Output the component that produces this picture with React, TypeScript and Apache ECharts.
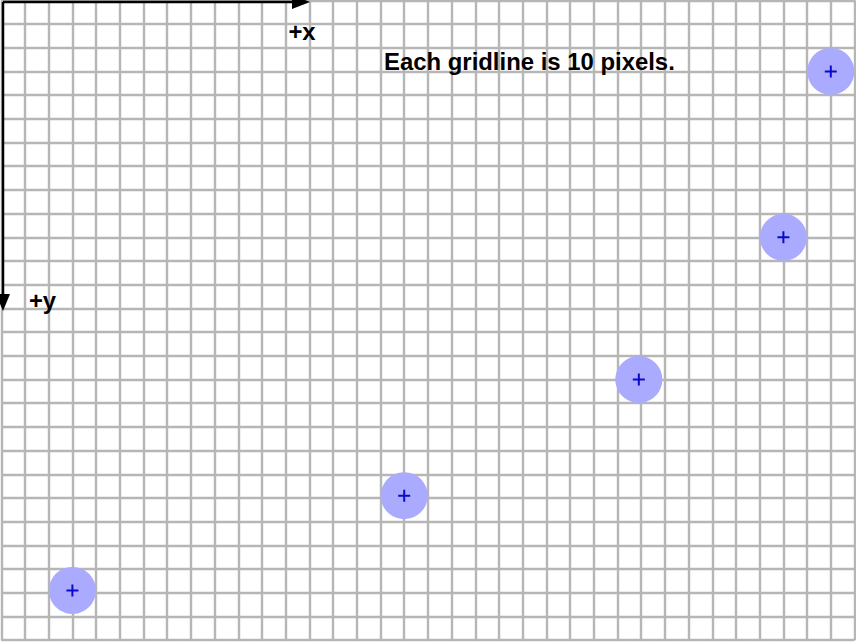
import React, { useEffect, useRef } from "react";
import * as echarts from "echarts";

const xValues = [350, 330, 269, 170, 30];
const yValues = [30, 100, 160, 209, 249];
const title = "Each gridline is 10 pixels.";
const xAxisLabel = "+x";
const yAxisLabel = "+y";

const FONT = "bold 23.9px 'Liberation Sans', Arial, sans-serif";

export default function App() {
  const ref = useRef<HTMLDivElement>(null);
  useEffect(() => {
    if (!ref.current) return;
    const chart = echarts.init(ref.current, null, { renderer: "svg" });
    const data = xValues.map((x, i) => [x, yValues[i]]);
    const gridStyle = { show: true, lineStyle: { color: "#b6b6b6", width: 2.4 } };
    chart.setOption({
      animation: false,
      backgroundColor: "#ffffff",
      grid: { left: 1.3, top: 0.3, width: 853.2, height: 639.9, containLabel: false },
      xAxis: {
        type: "value",
        min: 0,
        max: 360,
        interval: 10,
        axisLine: { show: false },
        axisTick: { show: false },
        axisLabel: { show: false },
        splitLine: gridStyle,
      },
      yAxis: {
        type: "value",
        min: 0,
        max: 270,
        interval: 10,
        inverse: true,
        axisLine: { show: false },
        axisTick: { show: false },
        axisLabel: { show: false },
        splitLine: gridStyle,
      },
      series: [
        {
          type: "scatter",
          data,
          symbol: "circle",
          symbolSize: 47,
          itemStyle: { color: "#aaaaff", opacity: 1 },
          z: 2,
        },
        {
          type: "scatter",
          data,
          symbol: "path://M5,0H7V5H12V7H7V12H5V7H0V5H5Z",
          symbolSize: 12,
          itemStyle: { color: "#0a0acc", opacity: 1 },
          z: 3,
        },
      ],
      graphic: [
        { type: "line", shape: { x1: 3, y1: 2, x2: 296, y2: 2 }, style: { stroke: "#000", lineWidth: 2.5 }, z: 10 },
        { type: "polygon", shape: { points: [[292, -5], [310, 2], [292, 9]] }, style: { fill: "#000" }, z: 10 },
        { type: "line", shape: { x1: 3, y1: 2, x2: 3, y2: 298 }, style: { stroke: "#000", lineWidth: 2.5 }, z: 10 },
        { type: "polygon", shape: { points: [[-4, 294], [3, 311], [10, 294]] }, style: { fill: "#000" }, z: 10 },
        {
          type: "text",
          x: 302,
          y: 31.2,
          style: { text: xAxisLabel, fill: "#000", font: FONT, textAlign: "center", textVerticalAlign: "middle" },
          z: 10,
        },
        {
          type: "text",
          x: 42.5,
          y: 300,
          style: { text: yAxisLabel, fill: "#000", font: FONT, textAlign: "center", textVerticalAlign: "middle" },
          z: 10,
        },
        {
          type: "text",
          x: 384,
          y: 61.2,
          style: { text: title, fill: "#000", font: FONT, textAlign: "left", textVerticalAlign: "middle" },
          z: 10,
        },
      ],
    });
    return () => chart.dispose();
  }, []);
  return <div ref={ref} style={{ position: "fixed", left: 0, top: 0, width: 856, height: 642 }} />;
}
